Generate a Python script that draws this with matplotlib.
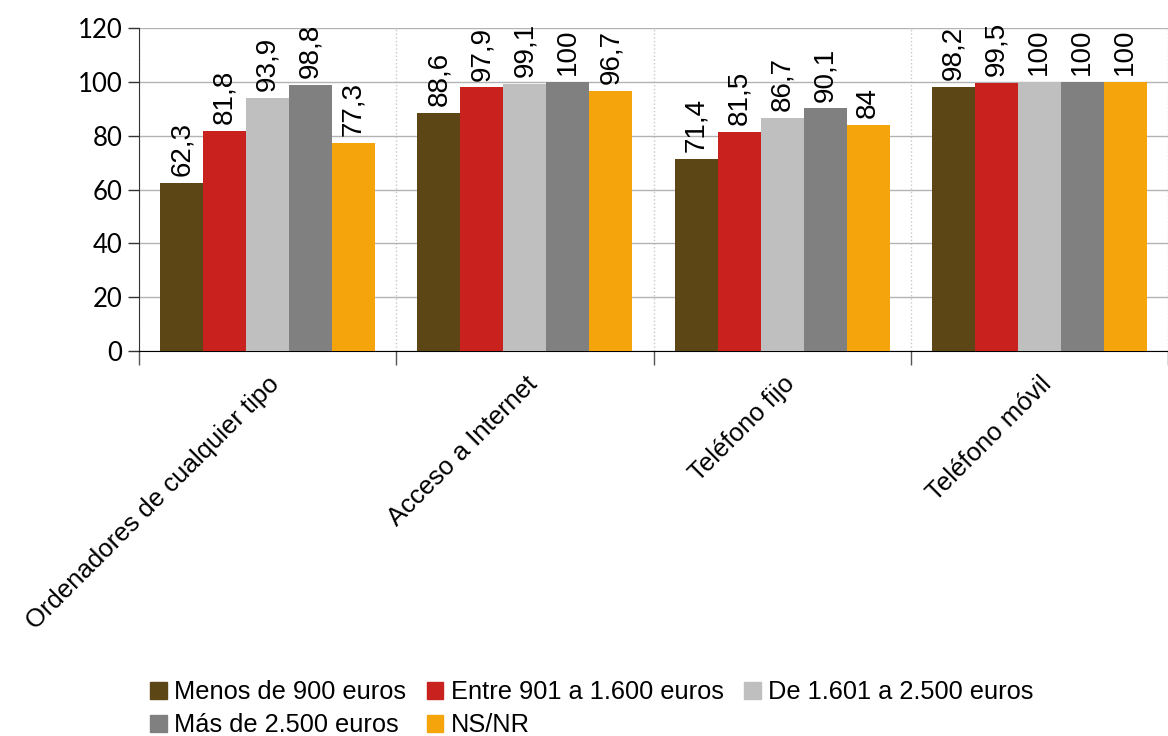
import numpy as np
import matplotlib.pyplot as plt
from matplotlib.patches import Patch

categorias = ['Ordenadores de cualquier tipo', 'Acceso a Internet',
              'Teléfono fijo', 'Teléfono móvil']
series = ['Menos de 900 euros', 'Entre 901 a 1.600 euros',
          'De 1.601 a 2.500 euros', 'Más de 2.500 euros', 'NS/NR']
menos_900 = [62.3, 88.6, 71.4, 98.2]
entre_901_1600 = [81.8, 97.9, 81.5, 99.5]
de_1601_2500 = [93.9, 99.1, 86.7, 100]
mas_2500 = [98.8, 100, 90.1, 100]
ns_nr = [77.3, 96.7, 84, 100]
valores = [menos_900, entre_901_1600, de_1601_2500, mas_2500, ns_nr]
colores = ['#5C4616', '#C9211E', '#BFBFBF', '#808080', '#F5A40C']

plt.rcParams['font.family'] = ['Liberation Sans', 'DejaVu Sans']

fig = plt.figure(figsize=(11.68, 7.36), dpi=100)
ax = fig.add_axes([139 / 1168, 1 - 351 / 736, 1 - 139 / 1168, (351 - 28) / 736])

x = np.arange(len(categorias))
ancho = 0.835 / len(series)
for i, (vals, col) in enumerate(zip(valores, colores)):
    pos = x - 0.835 / 2 + ancho * (i + 0.5)
    ax.bar(pos, vals, width=ancho, color=col, zorder=3)
    for p, v in zip(pos, vals):
        txt = ('%g' % v).replace('.', ',')
        ax.annotate(txt, (p, v), xytext=(0, 5), textcoords='offset points',
                    rotation=90, ha='center', va='bottom', fontsize=20)

ax.set_xlim(-0.5, 3.5)
ax.set_ylim(0, 120)
ax.set_yticks(range(0, 121, 20))
for lbl in ax.get_yticklabels():
    lbl.set_fontfamily('Lato')
    lbl.set_fontsize(18.5)
ax.tick_params(axis='y', direction='out', length=8, width=1, colors='#333333',
               labelcolor='black', pad=4)
ax.yaxis.grid(True, color='#B3B3B3', linewidth=1, zorder=0)

ax.set_xticks(x)
ax.set_xticklabels(categorias, rotation=45, ha='right', rotation_mode='anchor',
                   fontsize=18.5)
ax.tick_params(axis='x', which='major', length=0, pad=15)
ax.set_xticks(np.arange(-0.5, 4, 1), minor=True)
ax.tick_params(axis='x', which='minor', direction='out', length=10, width=1,
               color='#555555')
ax.xaxis.grid(True, which='minor', color='#C8C8C8', linestyle=':', linewidth=1,
              zorder=0)

for s in ['top', 'right']:
    ax.spines[s].set_visible(False)
ax.spines['left'].set_color('#333333')
ax.spines['bottom'].set_color('black')

handles = [Patch(color=c, label=s) for s, c in zip(series, colores)]
orden = [0, 3, 1, 4, 2]
fig.legend([handles[k] for k in orden], [series[k] for k in orden],
           ncol=3, loc='upper left', bbox_to_anchor=(140 / 1168, 1 - 670 / 736),
           frameon=False, fontsize=18.3, handlelength=0.65, handleheight=0.65,
           handletextpad=0.3, columnspacing=0.8, labelspacing=0.35,
           borderaxespad=0)

fig.savefig('out.png', dpi=100)
